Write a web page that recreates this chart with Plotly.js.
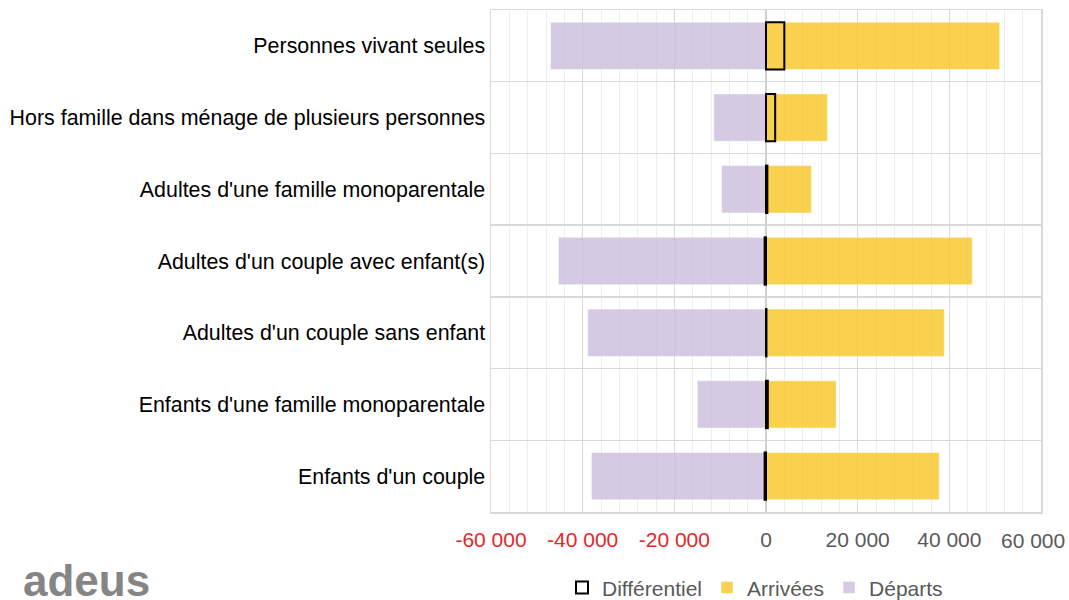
<!DOCTYPE html>
<html>
<head>
<meta charset="utf-8">
<script src="https://cdn.plot.ly/plotly-3.0.1.min.js"></script>
<style>
html,body{margin:0;padding:0;background:#fff;}
#chart{width:1069px;height:600px;}
</style>
</head>
<body>
<div id="chart"></div>
<script>
const categories = [
  "Personnes vivant seules",
  "Hors famille dans ménage de plusieurs personnes",
  "Adultes d'une famille monoparentale",
  "Adultes d'un couple avec enfant(s)",
  "Adultes d'un couple sans enfant",
  "Enfants d'une famille monoparentale",
  "Enfants d'un couple"
];
const arrivees = [51000, 13400, 9900, 45000, 38900, 15300, 37800];
const departs = [-47000, -11400, -9700, -45300, -38900, -15000, -38100];
const differentiel = [4000, 2000, 300, -300, 100, 400, -300];

const tickVals = [-60000, -40000, -20000, 0, 20000, 40000, 60000];
const tickLabels = ["-60 000", "-40 000", "-20 000", "0", "20 000", "40 000", "60 000"];

const lastIdx = tickVals.length - 1;
// the last label is drawn as an annotation, kept inside the page like the original
const tickText = tickVals.map((v, i) => {
  if (v < 0) return '<span style="color:#E8262A">' + tickLabels[i] + '</span>';
  if (i === lastIdx) return '';
  return tickLabels[i];
});

const traces = [
  {
    type: 'bar', orientation: 'h', name: 'Départs',
    y: categories, x: departs, width: 0.66,
    marker: {color: 'rgba(203,191,220,0.82)', line: {color: 'rgba(255,255,255,0.5)', width: 1}},
    hoverinfo: 'x+name'
  },
  {
    type: 'bar', orientation: 'h', name: 'Arrivées',
    y: categories, x: arrivees, width: 0.66,
    marker: {color: 'rgba(248,196,30,0.78)', line: {color: 'rgba(255,255,255,0.5)', width: 1}},
    hoverinfo: 'x+name'
  },
  {
    type: 'bar', orientation: 'h', name: 'Différentiel',
    y: categories, x: differentiel, width: 0.66,
    marker: {color: 'rgba(0,0,0,0)', line: {color: '#000000', width: 2}},
    hoverinfo: 'x+name'
  }
];

const layout = {
  width: 1069, height: 600,
  margin: {l: 491, r: 28, t: 10, b: 88, autoexpand: false},
  paper_bgcolor: '#ffffff', plot_bgcolor: '#ffffff',
  font: {family: 'Liberation Sans, Arial, sans-serif', size: 21, color: '#000000'},
  barmode: 'overlay',
  showlegend: true,
  legend: {
    orientation: 'h', traceorder: 'reversed',
    x: 0.48, xanchor: 'center', y: -0.151, yanchor: 'middle',
    font: {size: 21, color: '#595959'},
    itemwidth: 30
  },
  xaxis: {
    range: [-60000, 60000],
    tickmode: 'array', tickvals: tickVals, ticktext: tickText,
    tickfont: {size: 21, color: '#595959'},
    ticks: '', ticklabelstandoff: 8,
    showgrid: true, gridcolor: '#d9d9d9', gridwidth: 1.5,
    minor: {dtick: 4000, showgrid: true, gridcolor: '#eeeeee', gridwidth: 1},
    zeroline: true, zerolinecolor: '#d0d0d0', zerolinewidth: 1.5,
    showline: true, linecolor: '#d9d9d9', linewidth: 1.5, mirror: true,
    fixedrange: true
  },
  yaxis: {
    type: 'category', autorange: 'reversed',
    tickson: 'boundaries', ticks: '',
    showgrid: true, gridcolor: '#d9d9d9', gridwidth: 1.5,
    tickfont: {size: 21.4, color: '#000000'},
    ticklabelstandoff: 0,
    showline: true, linecolor: '#d9d9d9', linewidth: 1.5, mirror: true,
    fixedrange: true
  },
  annotations: [
    {
      xref: 'x', yref: 'paper', x: tickVals[lastIdx], y: -0.056, xanchor: 'center', yanchor: 'middle',
      xshift: -8,
      text: tickLabels[lastIdx], showarrow: false,
      font: {family: 'Liberation Sans, Arial, sans-serif', size: 21, color: '#595959'}
    },
    {
      xref: 'paper', yref: 'paper', x: -0.855, y: -0.137, xanchor: 'left', yanchor: 'middle',
      text: '<b>adeus</b>', showarrow: false,
      font: {family: 'Liberation Sans, Arial, sans-serif', size: 44, color: '#858585'}
    }
  ]
};

Plotly.newPlot('chart', traces, layout, {displayModeBar: false, staticPlot: true});
</script>
</body>
</html>
